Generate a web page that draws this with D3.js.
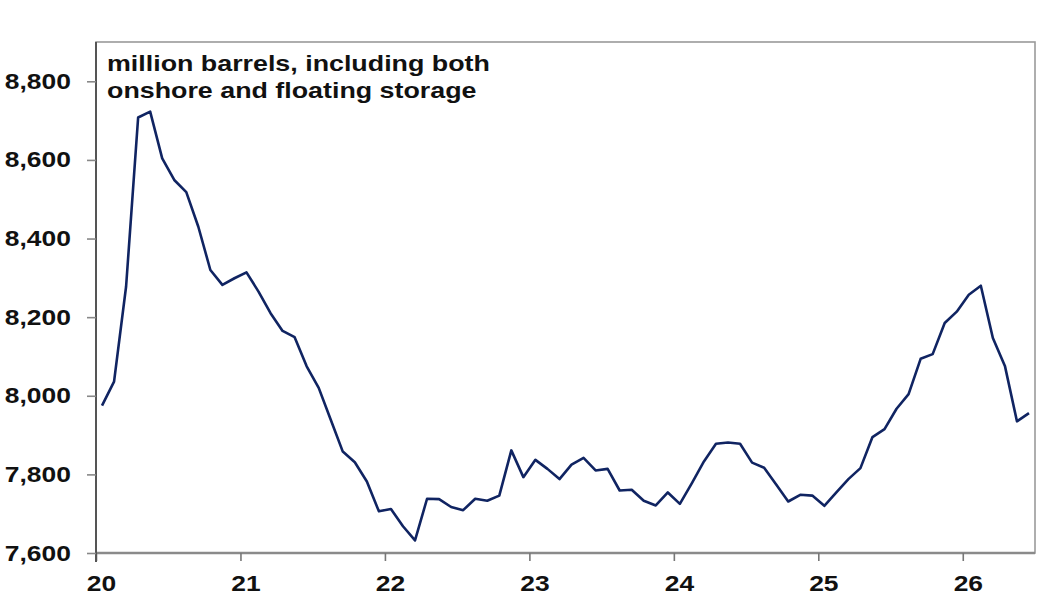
<!DOCTYPE html>
<meta charset="utf-8">
<style>

body {
  margin: 0;
  background: #fff;
}

text {
  font-family: "Liberation Sans", Arial, sans-serif;
  font-weight: bold;
  fill: #111;
}

.line {
  fill: none;
  stroke: #102462;
  stroke-width: 2.6px;
  stroke-linejoin: round;
}

</style>
<body>
<script src="https://cdn.jsdelivr.net/npm/d3@7"></script>
<script>

// monthly readings, Jan 2020 onwards (million barrels)
var startYear = 20;
var stocks = [7975, 8036, 8278, 8708, 8723, 8604, 8549, 8518, 8430, 8320, 8282, 8299,
              8314, 8265, 8210, 8165, 8149, 8075, 8020, 7939, 7858, 7831, 7782, 7706,
              7712, 7668, 7632, 7738, 7737, 7717, 7709, 7738, 7733, 7746, 7861, 7793,
              7837, 7814, 7788, 7825, 7842, 7810, 7814, 7759, 7761, 7733, 7721, 7754,
              7725, 7778, 7833, 7878, 7881, 7878, 7830, 7817, 7774, 7731, 7748, 7746,
              7720, 7754, 7788, 7816, 7895, 7915, 7967, 8004, 8094, 8106, 8185, 8214,
              8257, 8280, 8147, 8076, 7935, 7956];

var yearTicks = [20, 21, 22, 23, 24, 25, 26];
var yearLabels = ["20", "21", "22", "23", "24", "25", "26"];
var stockTicks = [7600, 7800, 8000, 8200, 8400, 8600, 8800];
var titleLines = ["million barrels, including both", "onshore and floating storage"];

var width = 1057, height = 601;
var margin = {top: 42, right: 22, bottom: 48, left: 96};

var svg = d3.select("body").append("svg")
    .attr("width", width)
    .attr("height", height);

var x = d3.scaleLinear()
    .domain([20, 26.5])
    .range([margin.left, width - margin.right]);

var y = d3.scaleLinear()
    .domain([7600, 8900])
    .range([height - margin.bottom, margin.top]);

// frame (top and right sides)
svg.append("rect")
    .attr("x", x(20))
    .attr("y", y(8900))
    .attr("width", x(26.5) - x(20))
    .attr("height", y(7600) - y(8900))
    .attr("fill", "none")
    .attr("stroke", "#9a9a9a")
    .attr("stroke-width", 1.6);

var xAxis = svg.append("g")
    .attr("transform", "translate(0," + y(7600) + ")")
    .call(d3.axisBottom(x)
      .tickValues(yearTicks)
      .tickSize(8)
      .tickFormat(function (d, i) { return yearLabels[i]; }));

xAxis.select(".domain")
    .attr("stroke", "#8a8a8a")
    .attr("stroke-width", 2.5)
    .attr("d", "M" + x(20) + ",0H" + x(26.5));
xAxis.selectAll(".tick line")
    .attr("stroke", "#777")
    .attr("stroke-width", 1.6);
xAxis.selectAll(".tick text")
    .attr("y", 22)
    .attr("x", 4.2)
    .attr("transform", "scale(1.2,1)")
    .style("font-size", "22px")
    .attr("fill", "#111");

var yAxis = svg.append("g")
    .attr("transform", "translate(" + x(20) + ",0)")
    .call(d3.axisLeft(y)
      .tickValues(stockTicks)
      .tickSize(9)
      .tickFormat(d3.format(",")));

yAxis.select(".domain")
    .attr("stroke", "#555")
    .attr("stroke-width", 2)
    .attr("d", "M0," + y(8900) + "V" + (y(7600) + 9));
yAxis.selectAll(".tick line")
    .attr("stroke", "#888")
    .attr("stroke-width", 1.6);
yAxis.selectAll(".tick text")
    .attr("x", -21)
    .attr("transform", "scale(1.2,1)")
    .style("font-size", "22px")
    .attr("fill", "#111");

var line = d3.line()
    .x(function (d, i) { return x(startYear + (i + 0.5) / 12); })
    .y(function (d) { return y(d); });

svg.append("path")
    .datum(stocks)
    .attr("class", "line")
    .attr("d", line);

svg.append("g")
    .attr("transform", "translate(107,71) scale(1.22,1)")
  .selectAll("text")
    .data(titleLines)
  .enter().append("text")
    .attr("y", function (d, i) { return i * 27; })
    .style("font-size", "22px")
    .text(function (d) { return d; });

</script>
